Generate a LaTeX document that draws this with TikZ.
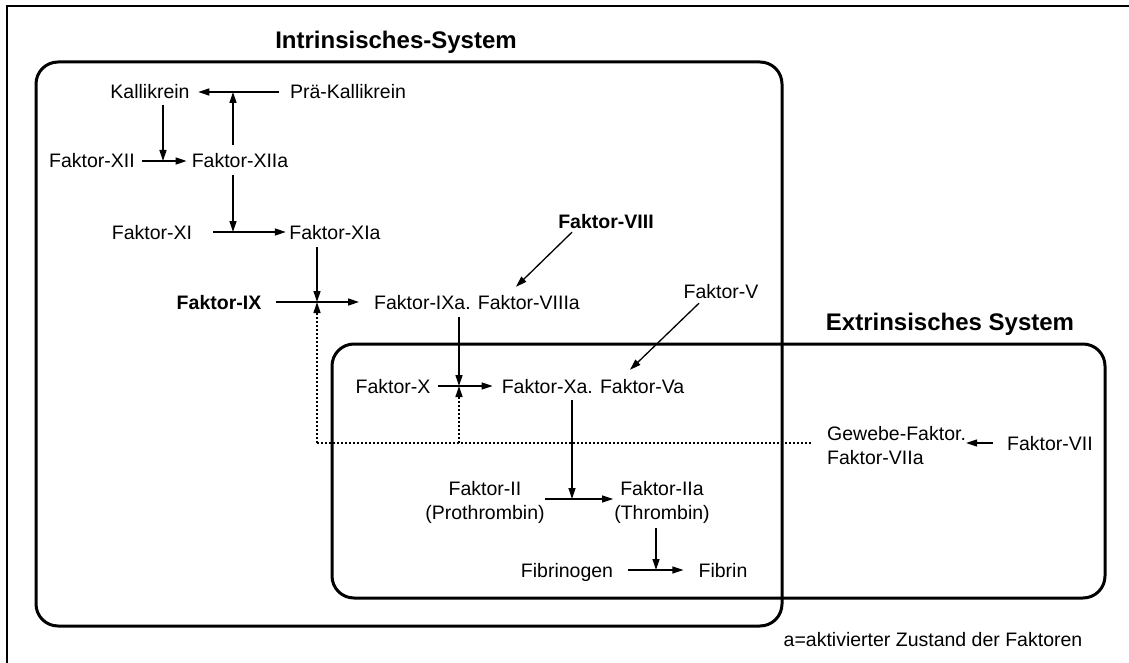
\documentclass[tikz,border=0pt]{standalone}
\usepackage{fontspec}
\setmainfont{Liberation Sans}
\usetikzlibrary{arrows.meta}
\begin{document}
\begin{tikzpicture}[x=1pt,y=-1pt,
  txt/.style={inner sep=0pt,font=\fontsize{19.5}{24.5}\selectfont,text height=14pt,text depth=0pt},
  txtb/.style={txt,font=\bfseries\fontsize{19.5}{24.5}\selectfont},
  multi/.style={inner sep=0pt,font=\fontsize{19.5}{24.5}\selectfont},
  ttl/.style={inner sep=0pt,font=\bfseries\fontsize{24}{28}\selectfont,text height=17pt,text depth=0pt},
  arr/.style={-{Triangle[length=11pt,width=7pt]},line width=1.3pt},
  dots/.style={line width=1.2pt,dash pattern=on 2pt off 2pt},
  sysbox/.style={rounded corners=22pt,line width=3pt}]
\useasboundingbox (0,0) rectangle (1129,663);
% outer frame
\draw[line width=1.5pt] (7,680) -- (7,6) -- (1140,6);
% system boxes
\draw[sysbox] (36,62) rectangle (782,626);
\draw[sysbox] (332,344) rectangle (1105,598);
\node[ttl] (tin) at (396,40) {Intrinsisches-System};
\node[ttl] (tex) at (950,322) {Extrinsisches System};
% nodes
\node[txt] (kal) at (150,92) {Kallikrein};
\node[txt] (pk) at (348,92) {Prä-Kallikrein};
\node[txt] (f12) at (92,161) {Faktor-XII};
\node[txt] (f12a) at (240,161) {Faktor-XIIa};
\node[txt] (f11) at (152,232) {Faktor-XI};
\node[txt] (f11a) at (335,232) {Faktor-XIa};
\node[txtb] (f9) at (219,302) {Faktor-IX};
\node[txt] (f9a) at (477,302) {Faktor-IXa. Faktor-VIIIa};
\node[txtb] (f8) at (606,221) {Faktor-VIII};
\node[txt] (f10) at (393,386) {Faktor-X};
\node[txt] (f10a) at (593,386) {Faktor-Xa. Faktor-Va};
\node[txt] (f5) at (721,291) {Faktor-V};
\node[txt] (f7) at (1050,443) {Faktor-VII};
\node[multi,align=left,anchor=north west] (gw) at (827,425.7) {Gewebe-Faktor.\\Faktor-VIIa};
\node[multi,align=center,anchor=north] (f2) at (485,480.8) {Faktor-II\\(Prothrombin)};
\node[multi,align=center,anchor=north] (f2a) at (662,480.8) {Faktor-IIa\\(Thrombin)};
\node[txt] (fg) at (567,570) {Fibrinogen};
\node[txt] (fb) at (723,570) {Fibrin};
\node[txt] (note) at (933,639) {a=aktivierter Zustand der Faktoren};
% junctions
\coordinate (j1) at (233,92);
\coordinate (j2) at (163,161);
\coordinate (j3) at (233,232);
\coordinate (j4) at (317,302);
\coordinate (j5) at (459,386);
\coordinate (j6) at (572,499);
\coordinate (j7) at (656,570);
\coordinate (d1) at (317,443);
% arrows
\draw[arr,shorten <=10.5pt,shorten >=8.5pt] (pk) -- (kal);
\draw[arr,shorten <=9pt] (f12a.north -| j1) -- (j1);
\draw[arr,shorten <=6pt] (kal.south -| j2) -- (j2);
\draw[arr,shorten <=7pt,shorten >=5pt] (f12) -- (f12a);
\draw[arr,shorten <=7pt] (f12a.south -| j3) -- (j3);
\draw[arr,shorten <=21pt,shorten >=3.5pt] (f11) -- (f11a);
\draw[arr,shorten <=8pt] (f11a.south -| j4) -- (j4);
\draw[arr,shorten <=15pt,shorten >=15pt] (f9) -- (f9a);
\draw[arr] ([xshift=-34pt,yshift=-4pt]f8.south) -- ([xshift=39pt,yshift=8pt]f9a.north);
\draw[arr,shorten <=8pt] (f9a.south -| j5) -- (j5);
\draw[arr,shorten <=7.6pt,shorten >=9pt] (f10) -- (f10a);
\draw[arr] ([xshift=-22pt,yshift=-5pt]f5.south) -- ([xshift=37pt,yshift=9pt]f10a.north);
\draw[arr,shorten <=7pt] (f10a.south -| j6) -- (j6);
\draw[dots,shorten >=16pt] (d1) -- (gw.west |- d1);
\draw[dots,arr] (d1) -- (j4);
\draw[dots,arr] (j5 |- d1) -- (j5);
\draw[arr,shorten <=14pt] (f7.west) -- (f7.west -| gw.east);
\draw[arr,shorten >=1pt] (f2.east |- j6) -- (f2a.west |- j6);
\draw[arr,shorten <=4pt] (f2a.south -| j7) -- (j7);
\draw[arr,shorten <=15pt,shorten >=15pt] (fg) -- (fb);
\end{tikzpicture}
\end{document}
